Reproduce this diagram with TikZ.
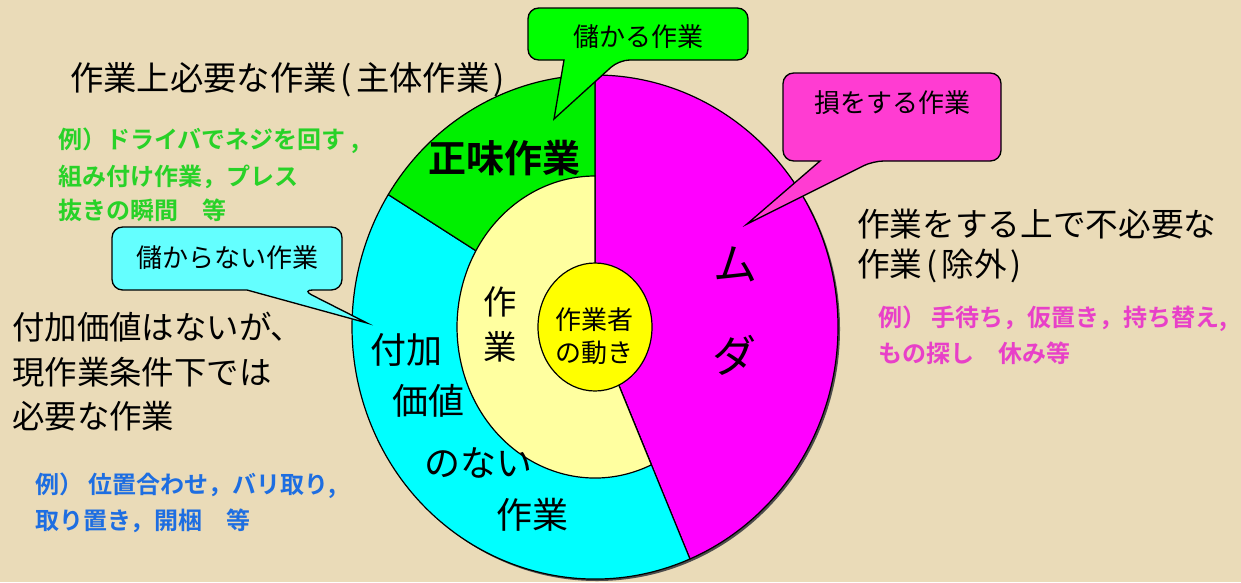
\documentclass[tikz,border=0pt]{standalone}
\usepackage{fontspec}
\newfontfamily\jp{Noto Sans CJK JP}
\newfontfamily\jpb{Noto Sans CJK JP Bold}
\definecolor{bgc}{RGB}{234,219,184}
\definecolor{gsec}{RGB}{0,240,0}
\definecolor{csec}{RGB}{0,255,255}
\definecolor{msec}{RGB}{255,0,255}
\definecolor{pale}{RGB}{255,255,160}
\definecolor{ycore}{RGB}{255,255,0}
\definecolor{gcall}{RGB}{0,255,0}
\definecolor{mcall}{RGB}{255,60,210}
\definecolor{ccall}{RGB}{100,255,255}
\definecolor{gtxt}{RGB}{40,210,40}
\definecolor{btxt}{RGB}{30,110,225}
\definecolor{mtxt}{RGB}{232,64,200}
\tikzset{
  lbl/.style={inner sep=0pt, anchor=west, font=\jp\fontsize{#1}{#1}\selectfont},
  lblb/.style={inner sep=0pt, anchor=west, font=\jpb\fontsize{#1}{#1}\selectfont},
  ctr/.style={inner sep=0pt, anchor=center, font=\jp\fontsize{#1}{#1}\selectfont},
  ctrb/.style={inner sep=0pt, anchor=center, font=\jpb\fontsize{#1}{#1}\selectfont},
  sector/.style={draw=black, line width=0.9pt, line join=round},
  callout/.style={draw=black, line width=1pt, line join=miter},
}
\newcommand\lp{\kern3pt(\kern3pt}
\newcommand\rp{\kern3pt)}
\begin{document}
\begin{tikzpicture}[x=0.75pt,y=-0.75pt]
\fill[bgc] (0,0) rectangle (1241,582);
\useasboundingbox (0,0) rectangle (1241,582);
% pie
\coordinate (C) at (595,327);
\fill[black!70] (597,329) ellipse [x radius=243, y radius=252];
\path[sector, fill=msec] (C) -- ++(-90:243 and 252) arc[start angle=-90, end angle=67, x radius=243, y radius=252] -- cycle;
\path[sector, fill=csec] (C) -- ++(67:243 and 252) arc[start angle=67, end angle=211.7, x radius=243, y radius=252] -- cycle;
\path[sector, fill=gsec] (C) -- ++(211.7:243 and 252) arc[start angle=211.7, end angle=270, x radius=243, y radius=252] -- cycle;
\path[sector, fill=pale] (C) -- ++(65.9:138 and 151) arc[start angle=65.9, end angle=270, x radius=138, y radius=151] -- cycle;
\path[sector, fill=ycore] (C) ellipse [x radius=57, y radius=64];
% pie texts
\node[ctrb=28.5pt] (shomi) at (504,158) {正味作業};
\node[ctr=25pt] (sa1) at (500,302) {作};
\node[ctr=25pt] (sa2) at (500,347) {業};
\node[ctr=19.5pt] (core1) at (594,320) {作業者};
\node[ctr=19.5pt] (core2) at (594,353) {の動き};
\node[ctr=33pt] (mu) at (735,264) {ム};
\node[ctr=33pt] (da) at (734,355) {ダ};
\node[ctr=27pt] (c1) at (406,350) {付加};
\node[ctr=27pt] (c2) at (428,401) {価値};
\node[ctr=27pt] (c3) at (478,463) {のない};
\node[ctr=27pt] (c4) at (532,515) {作業};
% callouts
\path[callout, fill=gcall] (564,60) [rounded corners=8] -- (528,60) -- (528,8) -- (748,8) -- (748,60) -- (619,60) [sharp corners] -- (554,119) -- cycle;
\node[ctr=19.5pt] (gc) at (638,37) {儲かる作業};
\path[callout, fill=mcall] (820,161) [rounded corners=8] -- (783,161) -- (783,73) -- (1001,73) -- (1001,161) -- (873,161) [sharp corners] -- (747,224) -- cycle;
\node[ctr=19.5pt] (mc) at (892,103) {損をする作業};
\path[callout, fill=ccall] (247,290) [rounded corners=8] -- (112,290) -- (112,227) -- (342,227) -- (342,290) -- (302,290) [sharp corners] -- (367,323) -- cycle;
\node[ctr=19.5pt] (cc) at (227,258) {儲からない作業};
% side texts
\node[lbl=25pt] (t1) at (70,80) {作業上必要な作業\lp 主体作業\rp};
\node[lblb=18pt, text=gtxt] (g1) at (58,141) {例）ドライバでネジを回す\kern4pt,};
\node[lblb=18pt, text=gtxt] (g2) at (58,177) {組み付け作業，プレス};
\node[lblb=18pt, text=gtxt] (g3) at (58,210) {抜きの瞬間　等};
\node[lbl=24.3pt] (l1) at (12,327) {付加価値はないが、};
\node[lbl=24.3pt] (l2) at (12,372) {現作業条件下では};
\node[lbl=24.3pt] (l3) at (12,416) {必要な作業};
\node[lblb=18pt, text=btxt] (b1) at (35,486) {例） 位置合わせ，バリ取り,};
\node[lblb=18pt, text=btxt] (b2) at (35,521) {取り置き，開梱　等};
\node[lbl=24.5pt] (r1) at (857,224) {作業をする上で不必要な};
\node[lbl=24.5pt] (r2) at (857,266) {作業\lp 除外\rp};
\node[lblb=18pt, text=mtxt] (m1) at (878,319) {例） 手待ち，仮置き，持ち替え,};
\node[lblb=18pt, text=mtxt] (m2) at (878,353) {もの探し　休み等};
\end{tikzpicture}
\end{document}
